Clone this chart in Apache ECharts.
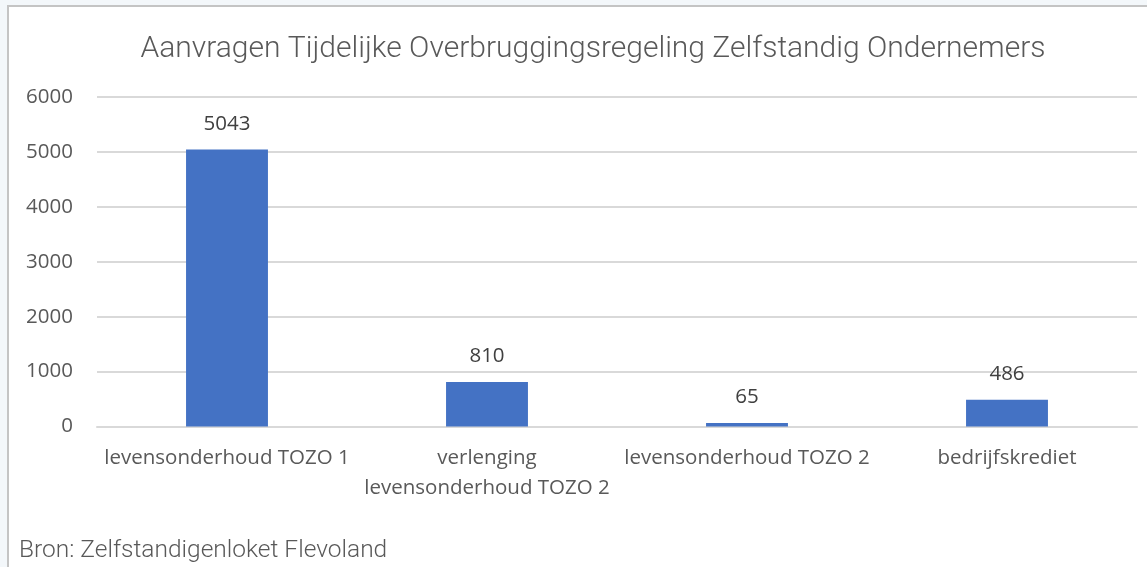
<!DOCTYPE html>
<html>
<head>
<meta charset="utf-8">
<script src="https://cdn.jsdelivr.net/npm/echarts@6/dist/echarts.min.js"></script>
<style>
html,body{margin:0;padding:0;background:#f3f7fa;}
#chart{width:1147px;height:567px;}
</style>
</head>
<body>
<div id="chart"></div>
<script>
const titleText = 'Aanvragen Tijdelijke Overbruggingsregeling Zelfstandig Ondernemers';
const sourceText = 'Bron: Zelfstandigenloket Flevoland';
const categories = ['levensonderhoud TOZO 1', 'verlenging\nlevensonderhoud TOZO 2', 'levensonderhoud TOZO 2', 'bedrijfskrediet'];
const values = [5043, 810, 65, 486];
const yMin = 0, yMax = 6000, yInterval = 1000;

const chart = echarts.init(document.getElementById('chart'));
chart.setOption({
  backgroundColor: '#f3f7fa',
  animation: false,
  graphic: [
    {type: 'rect', shape: {x: 8, y: 6, width: 1200, height: 600},
     style: {fill: '#ffffff', stroke: '#c4c4c4', lineWidth: 2}, z: -10},
    {type: 'text', left: 19, top: 538,
     style: {text: sourceText, fill: '#595959', font: '300 24.5px Roboto'}}
  ],
  title: {
    text: titleText, left: 588, top: 29, textAlign: 'center',
    textStyle: {fontFamily: 'Roboto', fontWeight: 300, fontSize: 30, color: '#595959'}
  },
  grid: {left: 97, right: 10, top: 97, bottom: 140.5},
  xAxis: {
    type: 'category', data: categories,
    axisLine: {show: true, lineStyle: {color: '#d9d9d9', width: 2}},
    axisTick: {show: false},
    axisLabel: {fontFamily: 'Open Sans', fontSize: 20.5, color: '#595959', margin: 17, lineHeight: 30, interval: 0}
  },
  yAxis: {
    type: 'value', min: yMin, max: yMax, interval: yInterval,
    axisLine: {show: false}, axisTick: {show: false},
    splitLine: {lineStyle: {color: '#d9d9d9', width: 2}},
    axisLabel: {fontFamily: 'Open Sans', fontSize: 20.5, color: '#595959', margin: 24,
      formatter: function (v) { return String(v); }}
  },
  series: [{
    type: 'bar', data: values, barWidth: '31.5%',
    itemStyle: {color: '#4472c4'},
    label: {show: true, position: 'top', distance: 15, fontFamily: 'Open Sans', fontSize: 20.5, color: '#404040'}
  }]
});
</script>
</body>
</html>
